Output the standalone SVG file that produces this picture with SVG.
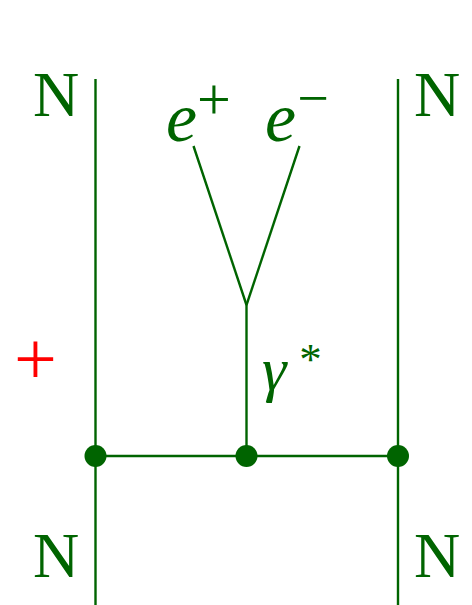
<svg xmlns="http://www.w3.org/2000/svg" width="472" height="605" viewBox="0 0 472 605">
<style>
.ln{stroke:#006400;stroke-width:2.4;fill:none}
.dot{fill:#006400}
.t{fill:#006400;font-family:"Liberation Serif","DejaVu Serif",serif}
.i{font-style:italic}
</style>
<rect width="472" height="605" fill="#fff"/>
<g id="connectors">
<line class="ln" x1="95.5" y1="79" x2="95.5" y2="605"/>
<line class="ln" x1="398" y1="79" x2="398" y2="605"/>
<line class="ln" x1="95.5" y1="456" x2="398" y2="456"/>
<line class="ln" x1="246.5" y1="305" x2="246.5" y2="456"/>
<line class="ln" x1="193.5" y1="146" x2="246.5" y2="305"/>
<line class="ln" x1="299.5" y1="146" x2="246.5" y2="305"/>
</g>
<g id="v1"><circle class="dot" cx="95.5" cy="456" r="11"/></g>
<g id="v2"><circle class="dot" cx="246.5" cy="456" r="11"/></g>
<g id="v3"><circle class="dot" cx="398" cy="456" r="11"/></g>
<g id="N-tl"><text class="t" x="33" y="116" font-size="64">N</text></g>
<g id="N-tr"><text class="t" x="414" y="116" font-size="64">N</text></g>
<g id="N-bl"><text class="t" x="33" y="577" font-size="64">N</text></g>
<g id="N-br"><text class="t" x="414" y="577" font-size="64">N</text></g>
<g id="eplus"><text class="t i" x="166" y="141" font-size="70">e</text><text class="t" x="214" y="119" font-size="60" text-anchor="middle">+</text></g>
<g id="eminus"><text class="t i" x="265" y="141" font-size="70">e</text><text class="t" x="313" y="117" font-size="56" text-anchor="middle">−</text></g>
<g id="gamma"><text class="t i" x="262" y="390" font-size="62">γ</text><text class="t" x="310.5" y="374" font-size="45" text-anchor="middle">*</text></g>
<g id="plus"><text x="35.5" y="384" font-size="76" fill="#ff0000" text-anchor="middle" font-family="Liberation Serif, serif">+</text></g>
</svg>
